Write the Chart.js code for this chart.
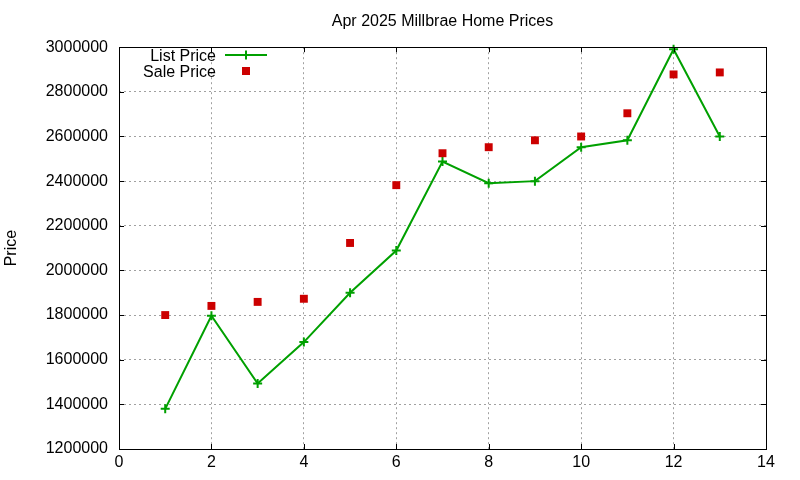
<!DOCTYPE html>
<html>
<head>
<meta charset="utf-8">
<script src="https://cdn.jsdelivr.net/npm/chart.js@4.4.1/dist/chart.umd.min.js"></script>
<style>
  html, body { margin: 0; padding: 0; background: #fff; }
  #wrap { width: 800px; height: 480px; }
</style>
</head>
<body>
<div id="wrap"><canvas id="chart"></canvas></div>
<script>
const months = [1, 2, 3, 4, 5, 6, 7, 8, 9, 10, 11, 12, 13];
const listPrice = [1380000, 1797000, 1493000, 1679000, 1900000, 2089000, 2488000, 2391000, 2400000, 2552000, 2583000, 2991000, 2600000];
const salePrice = [1800000, 1841000, 1859000, 1873000, 2123000, 2382000, 2525000, 2552000, 2583000, 2600000, 2704000, 2878000, 2887000];

const green = '#00a000';
const red = '#cc0000';

Chart.defaults.font.family = '"Liberation Sans", Arial, sans-serif';
Chart.defaults.font.size = 16;
Chart.defaults.color = '#000';

// gnuplot-style frame with inward ticks
const frame = {
  id: 'frame',
  afterDatasetsDraw(chart) {
    const { ctx, chartArea: { left, top, right, bottom }, scales: { x, y } } = chart;
    ctx.save();
    ctx.strokeStyle = '#000';
    ctx.lineWidth = 1;
    ctx.beginPath();
    x.ticks.forEach((t) => {
      const px = Math.round(x.getPixelForValue(t.value)) + 0.5;
      ctx.moveTo(px, bottom); ctx.lineTo(px, bottom - 5);
      ctx.moveTo(px, top); ctx.lineTo(px, top + 5);
    });
    y.ticks.forEach((t) => {
      const py = Math.round(y.getPixelForValue(t.value)) + 0.5;
      ctx.moveTo(left, py); ctx.lineTo(left + 5, py);
      ctx.moveTo(right, py); ctx.lineTo(right - 5, py);
    });
    ctx.stroke();
    ctx.strokeRect(Math.round(left) + 0.5, Math.round(top) + 0.5, Math.round(right - left), Math.round(bottom - top));
    ctx.restore();
  },
};

// key in the top-left corner, text right-aligned like gnuplot
const key = {
  id: 'key',
  afterDraw(chart) {
    const { ctx } = chart;
    const ds = chart.data.datasets;
    ctx.save();
    ctx.font = '16px "Liberation Sans", Arial, sans-serif';
    ctx.fillStyle = '#000';
    ctx.textAlign = 'right';
    ctx.textBaseline = 'middle';
    ctx.fillText(ds[1].label, 216, 56.5);
    ctx.fillText(ds[0].label, 216, 72.5);

    ctx.strokeStyle = green;
    ctx.lineWidth = 2;
    ctx.beginPath();
    ctx.moveTo(225, 55); ctx.lineTo(267, 55);
    ctx.moveTo(246, 50.5); ctx.lineTo(246, 59.5);
    ctx.stroke();

    ctx.fillStyle = red;
    ctx.fillRect(242, 67, 8, 8);
    ctx.restore();
  },
};

new Chart(document.getElementById('chart'), {
  type: 'line',
  data: {
    datasets: [
      {
        label: 'Sale Price',
        data: months.map((m, i) => ({ x: m, y: salePrice[i] })),
        showLine: false,
        pointStyle: 'rect',
        pointRadius: 5.6,
        pointBorderWidth: 0,
        backgroundColor: red,
        borderColor: red,
        borderWidth: 0,
        order: 0,
        clip: false,
      },
      {
        label: 'List Price',
        data: months.map((m, i) => ({ x: m, y: listPrice[i] })),
        borderColor: green,
        borderWidth: 2,
        pointStyle: 'cross',
        pointRadius: 4.5,
        pointBorderWidth: 2,
        pointBorderColor: green,
        tension: 0,
        order: 1,
        clip: false,
      },
    ],
  },
  plugins: [frame, key],
  options: {
    responsive: true,
    maintainAspectRatio: false,
    animation: false,
    layout: { padding: { left: 0, right: 34, top: 0, bottom: 0 } },
    plugins: {
      legend: { display: false },
      tooltip: { enabled: false },
      title: {
        display: true,
        fullSize: false,
        text: 'Apr 2025 Millbrae Home Prices',
        color: '#000',
        font: { size: 16, weight: 'normal' },
        padding: { top: 12, bottom: 16 },
      },
    },
    scales: {
      x: {
        type: 'linear',
        min: 0,
        max: 14,
        ticks: { stepSize: 2, padding: 4, color: '#000' },
        grid: { color: '#a0a0a0', drawTicks: false },
        border: { display: false, dash: [2, 3] },
        afterFit(scale) { scale.height = 31; },
      },
      y: {
        min: 1200000,
        max: 3000000,
        ticks: { stepSize: 200000, padding: 11, color: '#000', callback: (v) => String(v) },
        grid: { color: '#a0a0a0', drawTicks: false },
        border: { display: false, dash: [2, 3] },
        title: { display: true, text: 'Price', color: '#000', font: { size: 16 }, padding: { top: 2, bottom: 0 } },
        afterFit(scale) { scale.width = 119; },
      },
    },
  },
});
</script>
</body>
</html>
